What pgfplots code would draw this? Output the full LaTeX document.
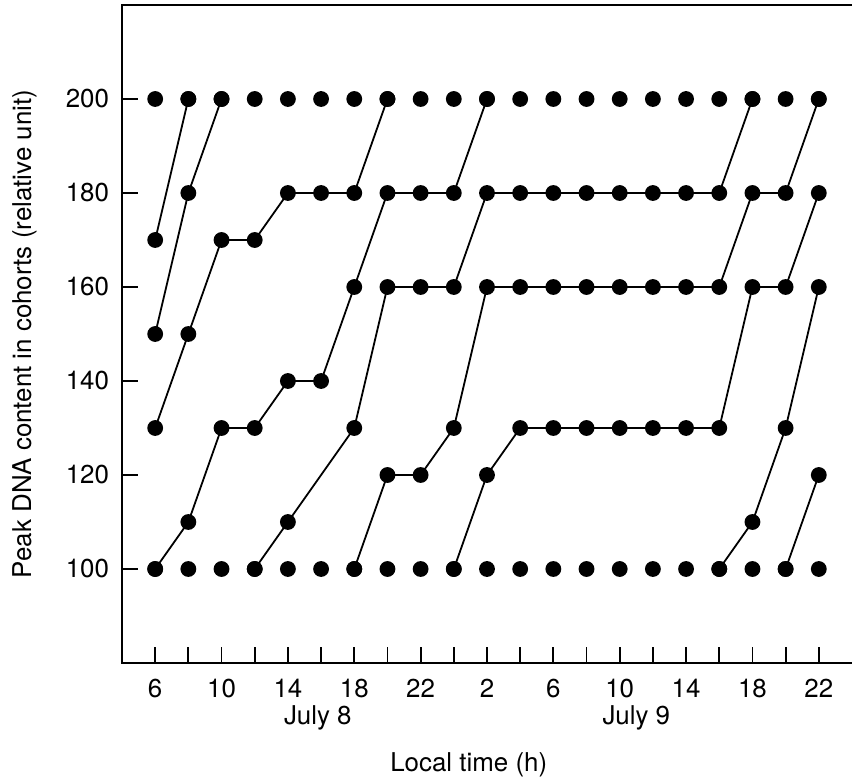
\documentclass[border=0pt]{standalone}
\usepackage{fontspec}
\setmainfont{TeX Gyre Heros}
\usepackage{pgfplots}
\pgfplotsset{compat=1.18}
\newcommand{\lbl}{\fontsize{13}{15}\selectfont}
\begin{document}
\begin{tikzpicture}
\begin{axis}[
  scale only axis, width=365bp, height=329bp,
  xmin=4, xmax=48, ymin=80, ymax=220,
  axis line style={draw=none},
  clip=false,
  xtick={6,10,...,46},
  xticklabels={6,10,14,18,22,2,6,10,14,18,22},
  minor xtick={8,12,...,44},
  ytick={100,120,...,200},
  xtick pos=bottom, ytick pos=left,
  tick align=inside,
  major tick length=8bp, minor tick length=8bp,
  every tick/.style={black, line width=0.9pt},
  /pgf/number format/assume math mode=true,
  tick label style={font=\lbl},
  xticklabel style={yshift=-4.5bp},
  yticklabel style={xshift=-3bp},
  trk/.style={black, solid, line width=0.9pt, mark=*, mark size=3.5bp, mark options={fill=black, draw=black, solid}},
]
\coordinate (O) at (rel axis cs:0,0);
% rows at 200 and 100 (every time point)
\addplot[trk, only marks] coordinates {
 (6,200)(8,200)(10,200)(12,200)(14,200)(16,200)(18,200)(20,200)(22,200)(24,200)(26,200)
 (28,200)(30,200)(32,200)(34,200)(36,200)(38,200)(40,200)(42,200)(44,200)(46,200)
 (6,100)(8,100)(10,100)(12,100)(14,100)(16,100)(18,100)(20,100)(22,100)(24,100)(26,100)
 (28,100)(30,100)(32,100)(34,100)(36,100)(38,100)(40,100)(42,100)(44,100)(46,100)
};
% cohort tracks
\addplot[trk] coordinates {(6,170)(8,200)};
\addplot[trk] coordinates {(6,150)(8,180)(10,200)};
\addplot[trk] coordinates {(6,130)(8,150)(10,170)(12,170)(14,180)(16,180)(18,180)(20,200)};
\addplot[trk] coordinates {(6,100)(8,110)(10,130)(12,130)(14,140)(16,140)(18,160)(20,180)(22,180)(24,180)(26,200)};
\addplot[trk] coordinates {(12,100)(14,110)(18,130)(20,160)(22,160)(24,160)(26,180)(28,180)(30,180)(32,180)(34,180)(36,180)(38,180)(40,180)(42,200)};
\addplot[trk] coordinates {(18,100)(20,120)(22,120)(24,130)(26,160)(28,160)(30,160)(32,160)(34,160)(36,160)(38,160)(40,160)(42,180)(44,180)(46,200)};
\addplot[trk] coordinates {(24,100)(26,120)(28,130)(30,130)(32,130)(34,130)(36,130)(38,130)(40,130)(42,160)(44,160)(46,180)};
\addplot[trk] coordinates {(40,100)(42,110)(44,130)(46,160)};
\addplot[trk] coordinates {(44,100)(46,120)};
% axis frame (left, bottom, top)
\draw[line width=1.2bp] (rel axis cs:1,1) -- (rel axis cs:0,1) -- (rel axis cs:0,0) -- (rel axis cs:1,0);
% date labels and axis titles
\node[font=\lbl] at ([yshift=-27.5bp]axis cs:15.8,80) {July 8};
\node[font=\lbl] at ([yshift=-27.5bp]axis cs:35,80) {July 9};
\node[font=\lbl] at ([yshift=-51bp]axis cs:24.9,80) {Local time (h)};
\node[font=\lbl, rotate=90] at ([xshift=-48.5bp]axis cs:4,150) {Peak DNA content in cohorts (relative unit)};
\end{axis}
\pgfresetboundingbox
\path ([xshift=-61bp,yshift=-59bp]O) rectangle ++(426bp,390.5bp);
\end{tikzpicture}
\end{document}
